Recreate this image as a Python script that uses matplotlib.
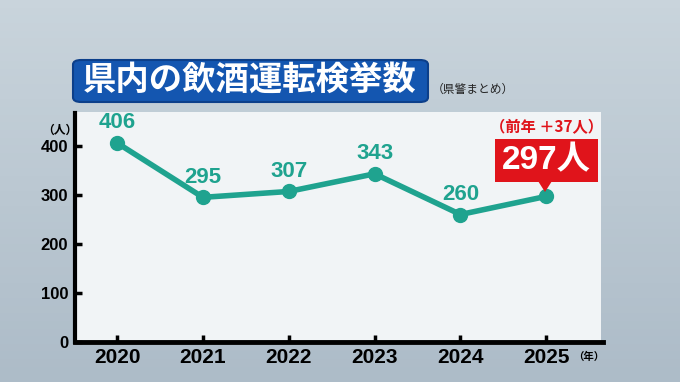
import numpy as np
import matplotlib
matplotlib.use("Agg")
import matplotlib.pyplot as plt
from matplotlib.patches import FancyBboxPatch, Rectangle, Polygon

plt.rcParams['font.family'] = ['Liberation Sans', 'Noto Sans CJK JP', 'DejaVu Sans']

# data
years = [2020, 2021, 2022, 2023, 2024, 2025]
counts = [406, 295, 307, 343, 260, 297]
yticks = [0, 100, 200, 300, 400]
title = "県内の飲酒運転検挙数"
source = "（県警まとめ）"
last_label = "297人"
diff_label = "（前年 ＋37人）"

TEAL = "#1fa38f"
RED = "#e0141b"
JP = ['Noto Sans CJK JP', 'DejaVu Sans']

W, H = 680, 382
fig = plt.figure(figsize=(W / 100, H / 100), dpi=100)
fig.patch.set_facecolor("#bac7d1")

# soft vertical shading of the backdrop
bg = fig.add_axes([0, 0, 1, 1], zorder=-5)
shade = np.linspace(0, 1, 50).reshape(-1, 1)
bg.imshow(shade, aspect="auto", cmap=matplotlib.colors.LinearSegmentedColormap.from_list(
    "bg", ["#c9d4dc", "#adbcc8"]), extent=[0, 1, 0, 1])
bg.set_axis_off()

def px(x, y):
    return x / W, 1 - y / H

# white panel
x0, y0 = px(73, 345)
x1, y1 = px(601, 112)
fig.patches.append(Rectangle((x0, y0), x1 - x0, y1 - y0, transform=fig.transFigure,
                             facecolor="#f1f4f6", edgecolor="none", zorder=-1))

# title box
tx0, ty0 = px(73, 102)
tx1, ty1 = px(428, 60)
fig.patches.append(FancyBboxPatch((tx0, ty0), tx1 - tx0, ty1 - ty0,
                                  boxstyle="round,pad=0,rounding_size=0.012",
                                  transform=fig.transFigure, facecolor="#1456b0",
                                  edgecolor="#0c3f8a", linewidth=1.5, zorder=2))
fig.text(*px(250, 80), title, fontsize=24, fontweight="bold", color="white",
         family=JP, ha="center", va="center", zorder=3)
fig.text(*px(432, 89), source, fontsize=8.5, color="#222222", family=JP,
         ha="left", va="center")

# axes
ax = fig.add_axes([75 / W, (H - 342) / H, (603 - 75) / W, (342 - 113) / H])
ax.set_facecolor("none")
ax.plot(years, counts, color=TEAL, linewidth=4, marker="o", markersize=10,
        solid_joinstyle="round", zorder=3)
ax.set_xlim(2019.51, 2025.66)
ax.set_ylim(0, 467)
ax.set_yticks(yticks)
ax.set_xticks(years)
ax.set_yticklabels([str(v) for v in yticks], fontsize=12, fontweight="bold")
ax.set_xticklabels([str(v) for v in years], fontsize=15, fontweight="bold")
ax.tick_params(axis="both", direction="in", length=5, width=2.5, colors="black")
ax.tick_params(axis="y", pad=5)
ax.tick_params(axis="x", pad=4)
for s in ("top", "right"):
    ax.spines[s].set_visible(False)
ax.spines["left"].set_linewidth(3)
ax.spines["bottom"].set_linewidth(3.5)

for yr, c in zip(years[:-1], counts[:-1]):
    ax.annotate(str(c), (yr, c), xytext=(0, 7), textcoords="offset points",
                ha="center", va="bottom", fontsize=16, fontweight="bold", color=TEAL)

# unit labels
fig.text(*px(60, 130), "（人）", fontsize=8.5, fontweight="bold", family=JP,
         ha="center", va="center")
fig.text(*px(573, 357), "（年）", fontsize=7.5, fontweight="bold", family=JP,
         ha="left", va="center")

# callout for the last point
bx0, by0 = px(495, 182)
bx1, by1 = px(598, 139)
fig.patches.append(Rectangle((bx0, by0), bx1 - bx0, by1 - by0, transform=fig.transFigure,
                             facecolor=RED, edgecolor="none", zorder=4))
fig.patches.append(Polygon([px(538, 181), px(552, 181), px(545, 192)], closed=True,
                           transform=fig.transFigure, facecolor=RED, edgecolor="none", zorder=4))
fig.text(*px(546, 161), last_label, fontsize=24, fontweight="bold", color="white",
         ha="center", va="center", zorder=5)
fig.text(*px(546, 127), diff_label, fontsize=11, fontweight="bold", color=RED,
         family=JP, ha="center", va="center", zorder=5)

fig.savefig("out.png", dpi=100)
